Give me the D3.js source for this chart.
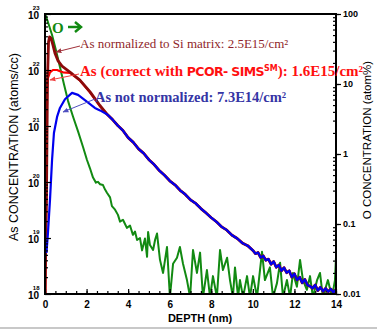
<!DOCTYPE html>
<meta charset="utf-8">
<script src="https://cdn.jsdelivr.net/npm/d3@7"></script>
<style>
body { margin: 0; background: #fff; }
.tick text { font-family: "Liberation Sans", Arial, sans-serif; font-weight: bold; }
</style>
<body>
<script>

var width = 377
var height = 330

// tick labels
var depthTicks = [0, 2, 4, 6, 8, 10, 12, 14]
var asTicks = [1e18, 1e19, 1e20, 1e21, 1e22, 1e23]
var asTickExp = ["18", "19", "20", "21", "22", "23"]
var oTicks = [0.01, 0.1, 1, 10, 100]
var oTickLabels = ["0.01", "0.1", "1", "10", "100"]

// near-surface part of each As profile (depth nm, atoms/cc)
var siDepth = [0.0, 0.07, 0.12, 0.17, 0.22, 0.29, 0.38, 0.48, 0.63, 0.82, 1.2, 1.68, 2.16, 2.65]
var siConc  = [1e18, 4.8e19, 6.6e21, 3.2e22, 3.9e22, 3.7e22, 2.8e22, 2.0e22, 1.45e22, 1.17e22, 9.2e21, 6.6e21, 4.1e21, 2.3e21]

var pcorDepth = [0.02, 0.07, 0.1, 0.14, 0.24, 0.38, 0.58, 0.72, 0.87, 1.2, 1.68, 2.16, 2.65]
var pcorConc  = [1e18, 3.7e20, 4.4e21, 7.2e21, 9.1e21, 1.0e22, 1.0e22, 9.5e21, 9.1e21, 8.9e21, 6.5e21, 4.0e21, 2.25e21]

var rawDepth = [0.07, 0.14, 0.24, 0.34, 0.43, 0.58, 0.72, 0.96, 1.3, 1.59, 1.92, 2.4, 2.65]
var rawConc  = [5.4e18, 1.2e19, 4.8e19, 2.5e20, 7.5e20, 1.45e21, 2.1e21, 3.0e21, 3.9e21, 3.6e21, 2.9e21, 2.1e21, 1.9e21]

// deeper part, where the three As profiles lie on top of each other
var tailDepth = [3.0, 3.25, 3.5, 3.75, 4.0, 4.25, 4.5, 4.75, 5.0, 5.25, 5.5, 5.75, 6.0, 6.25, 6.5, 6.75, 7.0, 7.25, 7.5, 7.75,
                 8.0, 8.25, 8.5, 8.75, 9.0, 9.25, 9.5, 9.75, 10.0, 10.125, 10.25, 10.375, 10.5, 10.625, 10.75, 10.875,
                 11.0, 11.125, 11.25, 11.375, 11.5, 11.625, 11.75, 11.875, 12.0, 12.125, 12.25, 12.375, 12.5, 12.625,
                 12.75, 12.875, 13.0, 13.125, 13.25, 13.375, 13.5, 13.625, 13.75, 13.875, 14.0]
var tailConc  = [1.6e21, 1.3e21, 1.02e21, 8.3e20, 6.2e20, 5.1e20, 3.9e20, 3.25e20, 2.5e20, 2.05e20, 1.6e20, 1.32e20, 1.05e20,
                 8.9e19, 7.1e19, 6.0e19, 4.8e19, 4.15e19, 3.35e19, 2.8e19, 2.3e19, 1.95e19, 1.58e19, 1.38e19, 1.12e19,
                 9.8e18, 8.1e18, 7.3e18, 6.0e18, 5.25e18, 5.5e18, 4.47e18, 4.8e18, 4.0e18, 4.2e18, 3.4e18, 3.8e18,
                 3.0e18, 3.3e18, 2.6e18, 2.95e18, 2.4e18, 2.6e18, 2.0e18, 2.3e18, 1.78e18, 2.0e18, 1.58e18, 1.82e18,
                 1.45e18, 1.38e18, 1.26e18, 1.45e18, 1.15e18, 1.32e18, 1.12e18, 1.26e18, 1.1e18, 1.23e18, 1.07e18, 1.2e18]

// oxygen (atom %)
var oDepth = [0.02, 0.14, 0.34, 0.53, 0.72, 0.91, 1.11, 1.35, 1.59, 1.83, 2.02, 2.16, 2.31, 2.45, 2.55, 2.65, 2.79, 2.89, 2.98, 3.13,
              3.22, 3.37, 3.51, 3.61, 3.75, 3.85, 3.94, 4.09, 4.23, 4.33, 4.43, 4.57, 4.67, 4.81, 4.91, 4.96, 5.05, 5.2, 5.3, 5.39,
              5.53, 5.68, 5.87, 6.01, 6.16, 6.35, 6.49, 6.64, 6.83, 6.98, 7.12, 7.31, 7.46, 7.6, 7.79, 7.94, 8.08, 8.27, 8.42, 8.56,
              8.76, 8.9, 9.04, 9.14, 9.29, 9.38, 9.53, 9.72, 9.86, 10.01, 10.2, 10.44, 10.58, 10.82, 10.97, 11.16, 11.31, 11.45, 11.64, 11.79,
              11.93, 12.12, 12.27, 12.41, 12.6, 12.75, 12.89, 13.09, 13.23, 13.37, 13.61, 13.81, 13.95, 14.0]
var oConc  = [97, 77, 50, 30, 17.5, 10, 5.7, 3.4, 2.1, 1.26, 0.82, 0.63, 0.46, 0.39, 0.4, 0.37, 0.36, 0.31, 0.28, 0.24,
              0.18, 0.16, 0.135, 0.108, 0.115, 0.1, 0.088, 0.095, 0.07, 0.078, 0.059, 0.063, 0.042, 0.062, 0.034, 0.077, 0.05, 0.0425, 0.06, 0.073,
              0.031, 0.02, 0.047, 0.009, 0.027, 0.033, 0.047, 0.027, 0.0158, 0.009, 0.0425, 0.02, 0.039, 0.009, 0.022, 0.009, 0.018, 0.009, 0.0425, 0.022,
              0.033, 0.0158, 0.009, 0.024, 0.009, 0.0158, 0.009, 0.018, 0.009, 0.018, 0.009, 0.04, 0.0158, 0.024, 0.009, 0.0143, 0.028, 0.009, 0.0158, 0.009,
              0.02, 0.0127, 0.0307, 0.0158, 0.0115, 0.018, 0.009, 0.0158, 0.02, 0.009, 0.0158, 0.009, 0.0158, 0.034]

// plot box (window.top is read-only, so no "top" variable here)
var pLeft = 45, pRight = 336, pTop = 14, pBottom = 294

var x = d3.scaleLinear().domain([0, 14]).range([pLeft, pRight])
var yAs = d3.scaleLog().domain([1e18, 1e23]).range([pBottom, pTop])
var yO = d3.scaleLog().domain([0.01, 100]).range([pBottom, pTop])

var svg = d3.select("body").append("svg")
            .attr("width", width)
            .attr("height", height)
            .style("display", "block")
            .style("font-family", "'Liberation Sans', Arial, sans-serif")

var defs = svg.append("defs")
defs.append("clipPath").attr("id", "plot")
   .append("rect").attr("x", pLeft).attr("y", pTop).attr("width", pRight - pLeft).attr("height", pBottom - pTop)

function pairs(dx, dy) { return dx.map(function(d, i) { return [d, dy[i]] }) }

var siData = pairs(siDepth, siConc).concat(pairs(tailDepth, tailConc))
var pcorData = pairs(pcorDepth, pcorConc).concat(pairs(tailDepth, tailConc))
var rawData = pairs(rawDepth, rawConc).concat(pairs(tailDepth, tailConc))
var oData = pairs(oDepth, oConc)

var asLine = d3.line().x(function(d) { return x(d[0]) }).y(function(d) { return yAs(d[1]) })
var oLine = d3.line().x(function(d) { return x(d[0]) }).y(function(d) { return yO(Math.max(d[1], 0.008)) })

var plot = svg.append("g").attr("clip-path", "url(#plot)")
            .attr("fill", "none").attr("stroke-linejoin", "round")

plot.append("path").attr("d", oLine(oData)).attr("stroke", "#128a12").attr("stroke-width", 2)
plot.append("path").attr("d", asLine(pcorData)).attr("stroke", "#ff0000").attr("stroke-width", 2.2)
plot.append("path").attr("d", asLine(siData)).attr("stroke", "#8b0a0a").attr("stroke-width", 2.8)
plot.append("path").attr("d", asLine(rawData)).attr("stroke", "#0000ee").attr("stroke-width", 2.2)

// axes: ticks point into the plot
svg.append("g")
   .attr("transform", "translate(0," + pBottom + ")")
   .call(d3.axisBottom(x).tickValues(d3.range(0, 14.01, 0.5)).tickSize(-3).tickFormat(""))
svg.append("g")
   .attr("transform", "translate(0," + pBottom + ")")
   .call(d3.axisBottom(x).tickValues(depthTicks).tickSize(-5).tickPadding(7).tickFormat(d3.format("d")))
   .call(function(g) { g.selectAll("text").attr("font-size", 10).attr("fill", "#000") })

var asMinor = []
asTicks.slice(0, -1).forEach(function(t) { for (var k = 2; k < 10; k++) asMinor.push(t * k) })
svg.append("g")
   .attr("transform", "translate(" + pLeft + ",0)")
   .call(d3.axisLeft(yAs).tickValues(asMinor).tickSize(-3).tickFormat(""))
var la = svg.append("g")
   .attr("transform", "translate(" + pLeft + ",0)")
   .call(d3.axisLeft(yAs).tickValues(asTicks).tickSize(-6).tickFormat(""))
la.selectAll(".tick").append("text")
   .attr("x", -6).attr("dy", "0.42em").attr("text-anchor", "end")
   .attr("font-size", 10).attr("fill", "#000")
   .text("10")
la.selectAll(".tick").append("text")
   .attr("x", -5.5).attr("dy", -4.5)
   .attr("font-size", 6).attr("fill", "#000")
   .text(function(d, i) { return asTickExp[i] })

var oMinor = []
oTicks.slice(0, -1).forEach(function(t) { for (var k = 2; k < 10; k++) oMinor.push(t * k) })
svg.append("g")
   .attr("transform", "translate(" + pRight + ",0)")
   .call(d3.axisRight(yO).tickValues(oMinor).tickSize(-3).tickFormat(""))
svg.append("g")
   .attr("transform", "translate(" + pRight + ",0)")
   .call(d3.axisRight(yO).tickValues(oTicks).tickSize(3).tickPadding(4).tickFormat(function(d, i) { return oTickLabels[i] }))
   .call(function(g) { g.selectAll("text").attr("font-size", 9).attr("fill", "#000") })
svg.append("g")
   .attr("transform", "translate(" + pRight + ",0)")
   .call(d3.axisLeft(yO).tickValues(oTicks).tickSize(-5).tickFormat(""))

svg.selectAll(".domain").remove()
svg.selectAll(".tick line").attr("stroke", "#000").attr("stroke-width", 1.2)

// frame
svg.append("rect")
   .attr("x", pLeft).attr("y", pTop).attr("width", pRight - pLeft).attr("height", pBottom - pTop)
   .attr("fill", "none").attr("stroke", "#000").attr("stroke-width", 2)

svg.append("text")
   .attr("transform", "translate(18," + 147 + ") rotate(-90)")
   .attr("text-anchor", "middle").attr("font-size", 12.5)
   .text("As CONCENTRATION (atoms/cc)")

svg.append("text")
   .attr("transform", "translate(371," + 140 + ") rotate(-90)")
   .attr("text-anchor", "middle").attr("font-size", 11.5)
   .text("O CONCENTRATION (atom%)")

svg.append("text")
   .attr("x", 200).attr("y", 322)
   .attr("text-anchor", "middle").attr("font-size", 11).attr("font-weight", "bold")
   .text("DEPTH (nm)")

svg.append("line")
   .attr("x1", 0).attr("x2", width).attr("y1", 328).attr("y2", 328)
   .attr("stroke", "#c8c8c8").attr("stroke-width", 2)

// annotations
function marker(id, color) {
  defs.append("marker").attr("id", id)
      .attr("viewBox", "0 0 10 10").attr("refX", 9).attr("refY", 5)
      .attr("markerWidth", 6).attr("markerHeight", 6).attr("orient", "auto")
      .append("path").attr("d", "M0,1L10,5L0,9Z").attr("fill", color)
}
marker("mSi", "#a0303a")
marker("mPcor", "#f04040")
marker("mRaw", "#5050c0")

function arrow(x1, y1, x2, y2, color, id) {
  svg.append("line").attr("x1", x1).attr("y1", y1).attr("x2", x2).attr("y2", y2)
     .attr("stroke", color).attr("stroke-width", 1).attr("marker-end", "url(#" + id + ")")
}
arrow(80, 46, 56, 52, "#a0303a", "mSi")
arrow(79, 74, 50, 80, "#f04040", "mPcor")
arrow(95, 99, 63, 112, "#5050c0", "mRaw")

var serif = "'Liberation Serif', 'Times New Roman', serif"

svg.append("text")
   .attr("x", 80).attr("y", 48).attr("font-family", serif).attr("font-size", 13)
   .attr("fill", "#8f1f2a")
   .text("As normalized to Si matrix: 2.5E15/cm²")

var t2 = svg.append("text")
   .attr("x", 80).attr("y", 76).attr("font-family", serif).attr("font-size", 15)
   .attr("font-weight", "bold").attr("fill", "#ff1010")
t2.append("tspan").text("As (correct with ")
t2.append("tspan").attr("font-family", "'DejaVu Sans', Arial, sans-serif").attr("font-size", 12.5)
  .attr("letter-spacing", -0.6).text("PCOR- SIMS")
t2.append("tspan").attr("font-family", "'DejaVu Sans', Arial, sans-serif").attr("font-size", 8)
  .attr("dy", -5).text("SM")
t2.append("tspan").attr("dy", 5).text("): 1.6E15/cm²")

svg.append("text")
   .attr("x", 95).attr("y", 102).attr("font-family", serif).attr("font-size", 14.5)
   .attr("font-weight", "bold").attr("fill", "#3535a5")
   .text("As not normalized: 7.3E14/cm²")

svg.append("text")
   .attr("x", 52).attr("y", 33).attr("font-family", serif).attr("font-size", 15)
   .attr("font-weight", "bold").attr("fill", "#128a12")
   .text("O")
svg.append("line").attr("x1", 68).attr("y1", 27).attr("x2", 80).attr("y2", 27)
   .attr("stroke", "#128a12").attr("stroke-width", 2.5)
svg.append("path").attr("d", "M75,22L81,27L75,32").attr("fill", "none")
   .attr("stroke", "#128a12").attr("stroke-width", 2.5)

</script>
</body>
